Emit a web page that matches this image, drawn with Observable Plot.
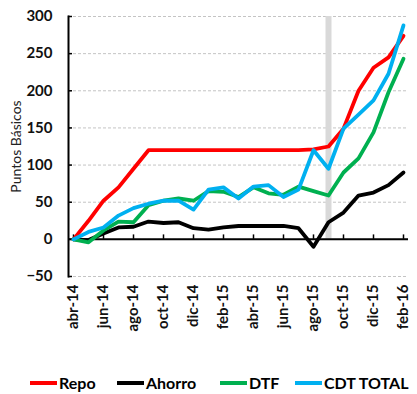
<!DOCTYPE html>
<html><head><meta charset="utf-8">
<script src="https://cdn.jsdelivr.net/npm/d3@7"></script>
<script src="https://cdn.jsdelivr.net/npm/@observablehq/plot@0.6"></script>
<style>
body{margin:0;background:#fff;font-family:Lato,"Open Sans",sans-serif;}
#legend{position:relative;height:24px;margin-top:9px;font-weight:bold;font-size:16px;line-height:24px;}
#legend .item{position:absolute;top:0;display:flex;align-items:center;white-space:nowrap;}
#legend .sw{display:inline-block;width:27px;height:4px;margin-right:2px;}
</style></head><body>
<div id="chart"></div><div id="legend"></div>
<script>
const months = ["abr-14","may-14","jun-14","jul-14","ago-14","sep-14","oct-14","nov-14","dic-14","ene-15","feb-15","mar-15","abr-15","may-15","jun-15","jul-15","ago-15","sep-15","oct-15","nov-15","dic-15","ene-16","feb-16"];
const xTickLabels = ["abr-14","jun-14","ago-14","oct-14","dic-14","feb-15","abr-15","jun-15","ago-15","oct-15","dic-15","feb-16"];
const yTicks = [-50,0,50,100,150,200,250,300];
const repo   = [0,25,52,70,95,120,120,120,120,120,120,120,120,120,120,120,121,125,149,200,231,245,274];
const ahorro = [0,-1,8,16,17,24,22,23,15,13,16,18,18,18,18,15,-10,23,36,59,63,73,90];
const dtf    = [0,-4,12,24,23,46,52,55,52,65,64,57,70,62,60,71,65,59,90,109,144,198,243];
const cdt    = [0,10,16,32,42,48,52,52,40,67,70,55,71,73,57,67,120,95,149,168,187,223,288];
const seriesNames = ["Repo","Ahorro","DTF","CDT TOTAL"];
const seriesColors = ["#ff0000","#000000","#00b050","#00b0f0"];
const highlightMonth = ["sep-15"];
const yLabel = "Puntos Básicos";

const seriesValues = [repo, ahorro, dtf, cdt];
const rows = seriesNames.flatMap((s,k) => seriesValues[k].map((v,i) => ({serie:s, mes:months[i], valor:v})));

const chart = Plot.plot({
  width:417, height:362, marginLeft:68, marginRight:9, marginTop:16, marginBottom:86,
  style:{fontFamily:"Lato, 'Open Sans', sans-serif", background:"transparent", overflow:"visible"},
  x:{type:"point", domain:months, padding:0},
  y:{domain:[-50,300]},
  color:{domain:seriesNames, range:seriesColors},
  marks:[
    Plot.gridY(yTicks, {stroke:"#c4c4c4", strokeOpacity:1, strokeDasharray:"3,2"}),
    Plot.ruleX(highlightMonth, {y1:0, y2:300, stroke:"#d9d9d9", strokeWidth:6}),
    Plot.ruleY([0], {stroke:"black", strokeWidth:2}),
    Plot.ruleX(xTickLabels, {y1:0, y2:6, stroke:"black", strokeWidth:1.5}),
    Plot.axisX({ticks:xTickLabels, tickSize:0, tickPadding:8, tickRotate:-90, fontSize:15, fontWeight:"bold", label:null, fill:"#111"}),
    Plot.axisY({ticks:yTicks, tickSize:0, tickPadding:16, fontSize:15, fontWeight:"bold", label:null, fill:"#111"}),
    Plot.axisY({ticks:[], tickSize:0, label:yLabel, labelAnchor:"center", labelOffset:57, labelArrow:"none", fontSize:14, fill:"#222"}),
    Plot.tickY(yTicks, {y:d=>d, insetRight:336, stroke:"black", strokeWidth:1.5}),
    Plot.frame({anchor:"left", stroke:"black", strokeWidth:2}),
    Plot.line(rows, {x:"mes", y:"valor", z:"serie", stroke:"serie", strokeWidth:3.8})
  ]
});
document.getElementById("chart").append(chart);

const legendPos = [30,117,220,295];
const legend = document.getElementById("legend");
seriesNames.forEach((s,k) => {
  const it = document.createElement("div");
  it.className = "item";
  it.style.left = legendPos[k] + "px";
  const sw = document.createElement("span");
  sw.className = "sw";
  sw.style.background = seriesColors[k];
  it.append(sw, document.createTextNode(s));
  legend.append(it);
});
</script>
</body></html>
